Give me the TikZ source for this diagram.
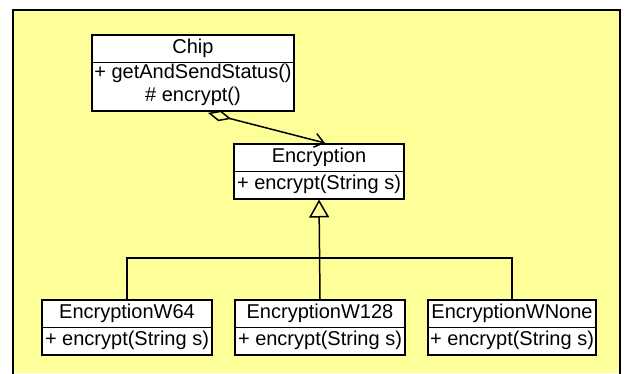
\documentclass[tikz,border=0pt]{standalone}
\usepackage{fontspec}
\setmainfont{Liberation Sans}
\usetikzlibrary{arrows.meta,positioning,calc,shapes.multipart}

\definecolor{notepad}{HTML}{FFFF99}

\begin{document}
\begin{tikzpicture}[
  x=1pt, y=-1pt, >=Stealth,
  every node/.style={font=\fontsize{20}{23}\selectfont\strut},
  umlclass/.style={draw, line width=1.5pt, fill=white, anchor=north,
                   rectangle split, rectangle split parts=2,
                   inner xsep=2pt, inner ysep=1.5pt, align=center},
  link/.style={line width=1.5pt},
]
\useasboundingbox (0,0) rectangle (626,373);

% package frame
\fill[notepad] (13,10) rectangle (620,373);
\draw[line width=2pt] (13,374) -- (13,10) -- (620,10) -- (620,374);

\node[umlclass, minimum width=202pt] (chip) at (193,34)
  {Chip \nodepart{two} + getAndSendStatus()\\ \# encrypt()};
\node[umlclass, minimum width=170pt] (enc) at (319,143)
  {Encryption \nodepart{two} + encrypt(String s)};

\node[umlclass, minimum width=170pt] (w64) at (127,299)
  {EncryptionW64 \nodepart{two} + encrypt(String s)};
\node[umlclass, minimum width=170pt] (w128) at (320,299)
  {EncryptionW128 \nodepart{two} + encrypt(String s)};
\node[umlclass, minimum width=168pt] (wnone) at (512,299)
  {EncryptionWNone \nodepart{two} + encrypt(String s)};

% aggregation
\draw[link, {Diamond[open, length=24pt, width=11pt]}-{Straight Barb[length=9pt, width=14pt]}]
  ($(chip.south)+(15,1)$) -- ($(enc.north)+(6,0)$);

% generalization
\coordinate (joint) at (319,258);
\draw[link] (w64.north) |- (joint) -| (wnone.north);
\draw[link, -{Triangle[open, length=18pt, width=20pt]}] (w128.north) -- (enc.south);
\end{tikzpicture}
\end{document}
